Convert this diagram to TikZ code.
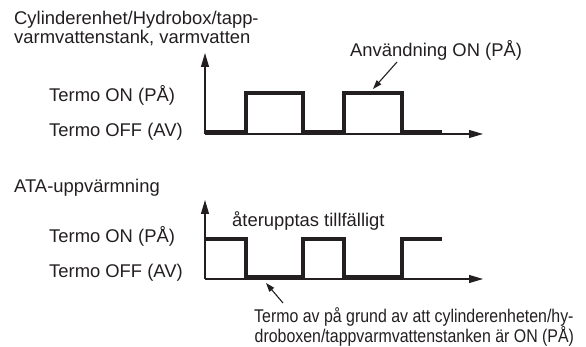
\documentclass[tikz,border=0pt]{standalone}
\usepackage{fontspec}
\setmainfont{Liberation Sans}
\newfontfamily\narrowsans[FakeStretch=0.865]{Liberation Sans}
\usetikzlibrary{arrows.meta}
\definecolor{ink}{HTML}{231F20}
\begin{document}
\begin{tikzpicture}[x=1pt,y=-1pt,
  txt/.style={anchor=base west,inner sep=0pt,text=ink,font=\fontsize{18.4}{20}\selectfont},
  notetxt/.style={txt,font=\narrowsans\fontsize{18.4}{20}\selectfont},
  axis/.style={draw=ink,line width=1.1pt,-{Triangle[length=14pt,width=8pt]}},
  signal/.style={draw=ink,line width=4pt,line join=miter,line cap=butt},
  pointer/.style={draw=ink,line width=1.1pt,-{Triangle[length=9pt,width=6pt]}}]
\useasboundingbox (0,0) rectangle (586,347);
% ---------- top chart ----------
\node[txt] (t1a) at (14,25) {Cylinderenhet/Hydrobox/tapp-};
\node[txt] (t1b) at (14,44) {varmvattenstank, varmvatten};
\node[txt] (on1) at (49,101.7) {Termo ON (PÅ)};
\node[txt] (off1) at (49,137) {Termo OFF (AV)};
\node[txt] (use) at (350,57) {Användning ON (PÅ)};
\coordinate (o1) at (205,134);
\coordinate (y1) at (205,53);
\coordinate (x1) at (483,134);
\draw[axis] (o1) -- (y1);
\draw[axis] (o1) -- (x1);
\draw[signal] (204,132) -- (245.7,132) -- (245.7,93) -- (303.3,93) -- (303.3,132)
  -- (344.3,132) -- (344.3,93) -- (401.7,93) -- (401.7,132) -- (442,132);
\coordinate (usetail) at (397,62);
\coordinate (usetip) at (373,89);
\draw[pointer] (usetail) -- (usetip);
% ---------- bottom chart ----------
\node[txt] (t2) at (14,193) {ATA-uppvärmning};
\node[txt] (on2) at (49,243) {Termo ON (PÅ)};
\node[txt] (off2) at (49,278) {Termo OFF (AV)};
\node[txt] (resume) at (232,227) {återupptas tillfälligt};
\node[notetxt] (note1) at (254,322) {Termo av på grund av att cylinderenheten/hy-};
\node[notetxt] (note2) at (254.5,342) {droboxen/tappvarmvattenstanken är ON (PÅ)};
\coordinate (o2) at (205,279);
\coordinate (y2) at (205,200);
\coordinate (x2) at (483,279);
\draw[axis] (o2) -- (y2);
\draw[axis] (o2) -- (x2);
\draw[signal] (205,239) -- (246,239) -- (246,277) -- (303.3,277) -- (303.3,239)
  -- (344.3,239) -- (344.3,277) -- (401.7,277) -- (401.7,239) -- (442,239);
\coordinate (notetail) at (283,303);
\coordinate (notetip) at (266,283);
\draw[pointer] (notetail) -- (notetip);
\end{tikzpicture}
\end{document}
